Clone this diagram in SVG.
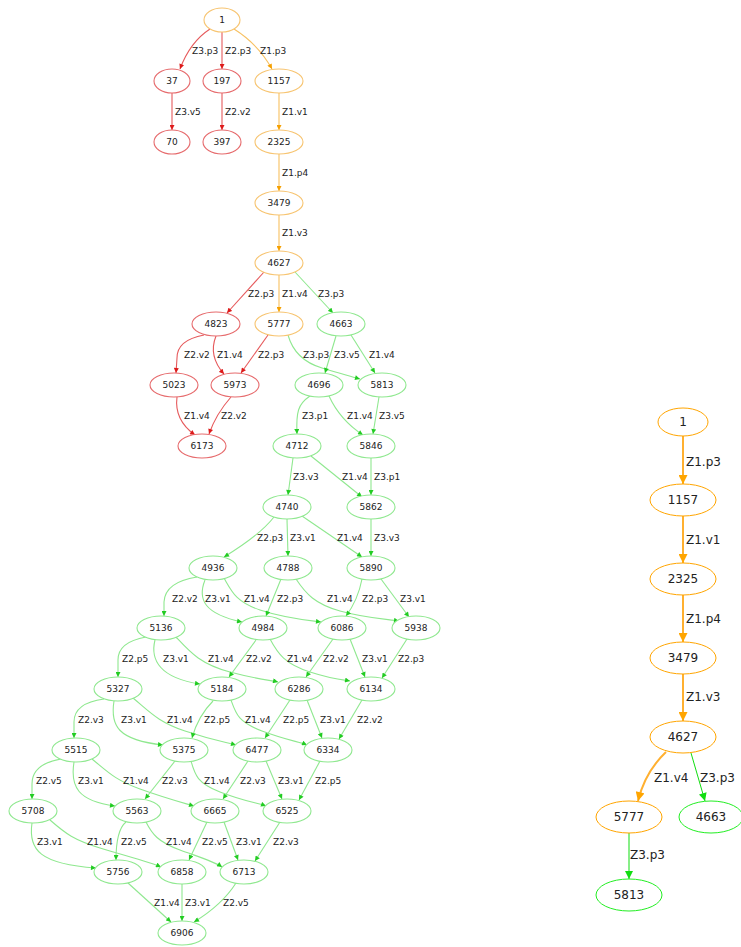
<svg xmlns="http://www.w3.org/2000/svg" width="741" height="947" viewBox="0 0 741 947">
<style>
text{font-family:"DejaVu Sans","Liberation Sans",sans-serif;fill:#222}
.n text{font-size:9px;text-anchor:middle}
.n ellipse{fill:#fff;stroke-width:1.1}
.nr ellipse{stroke:#e66a6c}
.no ellipse{stroke:#f7c470}
.ng ellipse{stroke:#8fe88f}
.lab text{font-size:9px}
.e path{fill:none;stroke-width:1.1}
.er{stroke:#e65a5c}
.eo{stroke:#f7c060}
.eg{stroke:#8fe88f}
.R text{font-size:12px;text-anchor:middle}
.R ellipse{fill:#fff;stroke-width:1}
.Ro ellipse{stroke:#ffa500}
.Rg ellipse{stroke:#22ee22}
.rlab text{font-size:12px}
.EO{fill:none;stroke:#ffb030;stroke-width:2}
.EG{fill:none;stroke:#11dd11;stroke-width:1}
</style>
<defs>
<marker id="mr" viewBox="0 0 10 10" refX="10" refY="5" markerWidth="6" markerHeight="5" markerUnits="userSpaceOnUse" orient="auto"><path d="M0,0L10,5L0,10z" fill="#dd1a1a"/></marker>
<marker id="mo" viewBox="0 0 10 10" refX="10" refY="5" markerWidth="6" markerHeight="5" markerUnits="userSpaceOnUse" orient="auto"><path d="M0,0L10,5L0,10z" fill="#f5a000"/></marker>
<marker id="mg" viewBox="0 0 10 10" refX="10" refY="5" markerWidth="6" markerHeight="5" markerUnits="userSpaceOnUse" orient="auto"><path d="M0,0L10,5L0,10z" fill="#22cc22"/></marker>
<marker id="MO" viewBox="0 0 10 10" refX="10" refY="5" markerWidth="10" markerHeight="9" markerUnits="userSpaceOnUse" orient="auto"><path d="M0,0L10,5L0,10z" fill="#ffa500"/></marker>
<marker id="MG" viewBox="0 0 10 10" refX="10" refY="5" markerWidth="9" markerHeight="8" markerUnits="userSpaceOnUse" orient="auto"><path d="M0,0L10,5L0,10z" fill="#11dd11"/></marker>
</defs>

<g id="left-edges" class="e">
<g class="er" marker-end="url(#mr)">
<path d="M210,29 Q190,42 180,69"/>
<path d="M222,32 L222,69"/>
<path d="M172,93 L172,130"/>
<path d="M222,93 L222,130"/>
<path d="M264,272 L227,313"/>
<path d="M204,335 Q177,340 177,358 L176,373"/>
<path d="M216,336 Q208,356 224,374"/>
<path d="M268,335 L241,373"/>
<path d="M177,397 Q174,420 195,435"/>
<path d="M231,397 Q216,414 209,434"/>
</g>
<g class="eo" marker-end="url(#mo)">
<path d="M234,29 Q258,44 272,69"/>
<path d="M279,93 L279,130"/>
<path d="M279,154 L279,191"/>
<path d="M279,215 L279,251"/>
<path d="M279,275 L279,312"/>
</g>
<g class="eg" marker-end="url(#mg)">
<path d="M295,272 L333,313"/>
<path d="M288,335 Q295,360 322,368 T360,379"/>
<path d="M336,336 L325,373"/>
<path d="M351,335 L375,373"/>
<path d="M310,396 C298,404 296,412 297,434"/>
<path d="M329,396 Q340,420 363,435"/>
<path d="M379,397 L373,434"/>
<path d="M293,458 L288,495"/>
<path d="M311,456 L362,497"/>
<path d="M371,458 L371,495"/>
<path d="M274,517 Q260,535 224,557"/>
<path d="M287,519 L288,556"/>
<path d="M302,516 L362,557"/>
<path d="M371,519 L371,556"/>
<path d="M197,577 Q165,582 164,602 L164,616"/>
<path d="M205,580 C197,600 205,614 242,622"/>
<path d="M224,578 C232,592 236,602 260,610 S305,620 321,622"/>
<path d="M281,579 L266,616"/>
<path d="M296,579 C306,594 315,604 340,611 S385,619 399,621"/>
<path d="M362,579 Q358,600 346,616"/>
<path d="M381,579 L409,617"/>
<path d="M146,637 Q118,642 118,660 L118,677"/>
<path d="M155,640 C150,660 160,678 200,684"/>
<path d="M176,637 C190,652 200,664 230,672 S270,680 278,682"/>
<path d="M256,640 L229,677"/>
<path d="M270,639 C278,654 285,664 310,672 S345,680 350,681"/>
<path d="M333,639 L306,677"/>
<path d="M350,639 L365,677"/>
<path d="M407,639 L382,678"/>
<path d="M104,699 Q74,703 74,722 L74,738"/>
<path d="M114,701 C110,726 118,740 163,745"/>
<path d="M133,698 C150,712 158,722 185,731 S225,742 236,745"/>
<path d="M213,701 Q198,716 192,738"/>
<path d="M231,700 C236,714 238,722 262,731 S300,742 307,745"/>
<path d="M290,700 L265,738"/>
<path d="M307,700 L322,738"/>
<path d="M362,700 L339,739"/>
<path d="M61,759 Q32,764 32,784 L32,799"/>
<path d="M74,762 C70,787 78,801 115,806"/>
<path d="M92,759 C108,772 115,780 140,789 S180,802 194,806"/>
<path d="M175,761 L145,799"/>
<path d="M191,761 C195,775 197,783 220,792 S258,803 266,806"/>
<path d="M248,761 L223,799"/>
<path d="M266,761 L282,799"/>
<path d="M320,761 L299,800"/>
<path d="M32,823 C28,850 40,864 96,868"/>
<path d="M50,820 C66,834 74,840 100,848 S150,862 161,867"/>
<path d="M126,822 Q116,830 116,860"/>
<path d="M146,822 C152,834 158,842 180,850 S215,862 222,867"/>
<path d="M207,822 L189,860"/>
<path d="M224,822 L238,860"/>
<path d="M280,822 L255,861"/>
<path d="M128,883 L171,922"/>
<path d="M182,884 L182,921"/>
<path d="M236,883 Q222,905 194,922"/>
</g>
</g>

<g id="left-edge-labels" class="lab">
<text x="192" y="54">Z3.p3</text><text x="225" y="54">Z2.p3</text><text x="260" y="54">Z1.p3</text>
<text x="175" y="115">Z3.v5</text><text x="225" y="115">Z2.v2</text><text x="282" y="115">Z1.v1</text>
<text x="282" y="176">Z1.p4</text>
<text x="282" y="236">Z1.v3</text>
<text x="248" y="297">Z2.p3</text><text x="282" y="297">Z1.v4</text><text x="318" y="297">Z3.p3</text>
<text x="184" y="358">Z2.v2</text><text x="217" y="358">Z1.v4</text><text x="258" y="358">Z2.p3</text><text x="303" y="358">Z3.p3</text><text x="334" y="358">Z3.v5</text><text x="369" y="358">Z1.v4</text>
<text x="184" y="419">Z1.v4</text><text x="221" y="419">Z2.v2</text><text x="302" y="419">Z3.p1</text><text x="347" y="419">Z1.v4</text><text x="379" y="419">Z3.v5</text>
<text x="293" y="480">Z3.v3</text><text x="342" y="480">Z1.v4</text><text x="374" y="480">Z3.p1</text>
<text x="257" y="541">Z2.p3</text><text x="290" y="541">Z3.v1</text><text x="337" y="541">Z1.v4</text><text x="374" y="541">Z3.v3</text>
<text x="172" y="602">Z2.v2</text><text x="205" y="602">Z3.v1</text><text x="244" y="602">Z1.v4</text><text x="277" y="602">Z2.p3</text><text x="327" y="602">Z1.v4</text><text x="362" y="602">Z2.p3</text><text x="400" y="602">Z3.v1</text>
<text x="122" y="662">Z2.p5</text><text x="163" y="662">Z3.v1</text><text x="208" y="662">Z1.v4</text><text x="246" y="662">Z2.v2</text><text x="287" y="662">Z1.v4</text><text x="323" y="662">Z2.v2</text><text x="362" y="662">Z3.v1</text><text x="398" y="662">Z2.p3</text>
<text x="78" y="723">Z2.v3</text><text x="121" y="723">Z3.v1</text><text x="167" y="723">Z1.v4</text><text x="204" y="723">Z2.p5</text><text x="245" y="723">Z1.v4</text><text x="283" y="723">Z2.p5</text><text x="320" y="723">Z3.v1</text><text x="357" y="723">Z2.v2</text>
<text x="36" y="784">Z2.v5</text><text x="78" y="784">Z3.v1</text><text x="123" y="784">Z1.v4</text><text x="162" y="784">Z2.v3</text><text x="204" y="784">Z1.v4</text><text x="240" y="784">Z2.v3</text><text x="278" y="784">Z3.v1</text><text x="315" y="784">Z2.p5</text>
<text x="37" y="845">Z3.v1</text><text x="87" y="845">Z1.v4</text><text x="121" y="845">Z2.v5</text><text x="166" y="845">Z1.v4</text><text x="202" y="845">Z2.v5</text><text x="236" y="845">Z3.v1</text><text x="273" y="845">Z2.v3</text>
<text x="154" y="906">Z1.v4</text><text x="185" y="906">Z3.v1</text><text x="223" y="906">Z2.v5</text>
</g>

<g id="left-nodes">
<g id="L1" class="n no"><ellipse cx="222" cy="20" rx="18" ry="12"/><text x="222" y="23">1</text></g>
<g id="L37" class="n nr"><ellipse cx="172" cy="81" rx="18" ry="12"/><text x="172" y="84">37</text></g>
<g id="L197" class="n nr"><ellipse cx="222" cy="81" rx="19" ry="12"/><text x="222" y="84">197</text></g>
<g id="L1157" class="n no"><ellipse cx="279" cy="81" rx="24" ry="12"/><text x="279" y="84">1157</text></g>
<g id="L70" class="n nr"><ellipse cx="172" cy="142" rx="18" ry="12"/><text x="172" y="145">70</text></g>
<g id="L397" class="n nr"><ellipse cx="222" cy="142" rx="19" ry="12"/><text x="222" y="145">397</text></g>
<g id="L2325" class="n no"><ellipse cx="279" cy="142" rx="24" ry="12"/><text x="279" y="145">2325</text></g>
<g id="L3479" class="n no"><ellipse cx="279" cy="203" rx="24" ry="12"/><text x="279" y="206">3479</text></g>
<g id="L4627" class="n no"><ellipse cx="279" cy="263" rx="24" ry="12"/><text x="279" y="266">4627</text></g>
<g id="L4823" class="n nr"><ellipse cx="216" cy="324" rx="24" ry="12"/><text x="216" y="327">4823</text></g>
<g id="L5777" class="n no"><ellipse cx="279" cy="324" rx="24" ry="12"/><text x="279" y="327">5777</text></g>
<g id="L4663" class="n ng"><ellipse cx="341" cy="324" rx="24" ry="12"/><text x="341" y="327">4663</text></g>
<g id="L5023" class="n nr"><ellipse cx="174" cy="385" rx="24" ry="12"/><text x="174" y="388">5023</text></g>
<g id="L5973" class="n nr"><ellipse cx="235" cy="385" rx="24" ry="12"/><text x="235" y="388">5973</text></g>
<g id="L4696" class="n ng"><ellipse cx="319" cy="385" rx="24" ry="12"/><text x="319" y="388">4696</text></g>
<g id="L5813" class="n ng"><ellipse cx="382" cy="385" rx="24" ry="12"/><text x="382" y="388">5813</text></g>
<g id="L6173" class="n nr"><ellipse cx="202" cy="446" rx="24" ry="12"/><text x="202" y="449">6173</text></g>
<g id="L4712" class="n ng"><ellipse cx="297" cy="446" rx="24" ry="12"/><text x="297" y="449">4712</text></g>
<g id="L5846" class="n ng"><ellipse cx="371" cy="446" rx="24" ry="12"/><text x="371" y="449">5846</text></g>
<g id="L4740" class="n ng"><ellipse cx="287" cy="507" rx="24" ry="12"/><text x="287" y="510">4740</text></g>
<g id="L5862" class="n ng"><ellipse cx="371" cy="507" rx="24" ry="12"/><text x="371" y="510">5862</text></g>
<g id="L4936" class="n ng"><ellipse cx="213" cy="568" rx="24" ry="12"/><text x="213" y="571">4936</text></g>
<g id="L4788" class="n ng"><ellipse cx="288" cy="568" rx="24" ry="12"/><text x="288" y="571">4788</text></g>
<g id="L5890" class="n ng"><ellipse cx="371" cy="568" rx="24" ry="12"/><text x="371" y="571">5890</text></g>
<g id="L5136" class="n ng"><ellipse cx="161" cy="628" rx="24" ry="12"/><text x="161" y="631">5136</text></g>
<g id="L4984" class="n ng"><ellipse cx="263" cy="628" rx="24" ry="12"/><text x="263" y="631">4984</text></g>
<g id="L6086" class="n ng"><ellipse cx="342" cy="628" rx="24" ry="12"/><text x="342" y="631">6086</text></g>
<g id="L5938" class="n ng"><ellipse cx="416" cy="628" rx="24" ry="12"/><text x="416" y="631">5938</text></g>
<g id="L5327" class="n ng"><ellipse cx="118" cy="689" rx="24" ry="12"/><text x="118" y="692">5327</text></g>
<g id="L5184" class="n ng"><ellipse cx="222" cy="689" rx="24" ry="12"/><text x="222" y="692">5184</text></g>
<g id="L6286" class="n ng"><ellipse cx="299" cy="689" rx="24" ry="12"/><text x="299" y="692">6286</text></g>
<g id="L6134" class="n ng"><ellipse cx="371" cy="689" rx="24" ry="12"/><text x="371" y="692">6134</text></g>
<g id="L5515" class="n ng"><ellipse cx="76" cy="750" rx="24" ry="12"/><text x="76" y="753">5515</text></g>
<g id="L5375" class="n ng"><ellipse cx="184" cy="750" rx="24" ry="12"/><text x="184" y="753">5375</text></g>
<g id="L6477" class="n ng"><ellipse cx="257" cy="750" rx="24" ry="12"/><text x="257" y="753">6477</text></g>
<g id="L6334" class="n ng"><ellipse cx="328" cy="750" rx="24" ry="12"/><text x="328" y="753">6334</text></g>
<g id="L5708" class="n ng"><ellipse cx="33" cy="811" rx="24" ry="12"/><text x="33" y="814">5708</text></g>
<g id="L5563" class="n ng"><ellipse cx="137" cy="811" rx="24" ry="12"/><text x="137" y="814">5563</text></g>
<g id="L6665" class="n ng"><ellipse cx="215" cy="811" rx="24" ry="12"/><text x="215" y="814">6665</text></g>
<g id="L6525" class="n ng"><ellipse cx="287" cy="811" rx="24" ry="12"/><text x="287" y="814">6525</text></g>
<g id="L5756" class="n ng"><ellipse cx="118" cy="872" rx="24" ry="12"/><text x="118" y="875">5756</text></g>
<g id="L6858" class="n ng"><ellipse cx="182" cy="872" rx="24" ry="12"/><text x="182" y="875">6858</text></g>
<g id="L6713" class="n ng"><ellipse cx="244" cy="872" rx="24" ry="12"/><text x="244" y="875">6713</text></g>
<g id="L6906" class="n ng"><ellipse cx="182" cy="933" rx="24" ry="12"/><text x="182" y="936">6906</text></g>
</g>

<g id="right-edges">
<path class="EO" marker-end="url(#MO)" d="M683,436 L683,484"/>
<path class="EO" marker-end="url(#MO)" d="M683,516 L683,563"/>
<path class="EO" marker-end="url(#MO)" d="M683,595 L683,642"/>
<path class="EO" marker-end="url(#MO)" d="M683,674 L683,721"/>
<path class="EO" marker-end="url(#MO)" d="M666,752 Q645,772 638,801"/>
<path class="EG" marker-end="url(#MG)" d="M691,753 L705,801"/>
<path class="EG" marker-end="url(#MG)" d="M629,833 L629,879"/>
</g>
<g id="right-edge-labels" class="rlab">
<text x="686" y="466">Z1.p3</text>
<text x="686" y="544">Z1.v1</text>
<text x="686" y="623">Z1.p4</text>
<text x="686" y="701">Z1.v3</text>
<text x="654" y="782">Z1.v4</text>
<text x="700" y="782">Z3.p3</text>
<text x="630" y="859">Z3.p3</text>
</g>
<g id="right-nodes">
<g id="R1" class="R Ro"><ellipse cx="683" cy="422" rx="25" ry="14"/><text x="683" y="426">1</text></g>
<g id="R1157" class="R Ro"><ellipse cx="683" cy="500" rx="33" ry="16"/><text x="683" y="504">1157</text></g>
<g id="R2325" class="R Ro"><ellipse cx="683" cy="579" rx="33" ry="16"/><text x="683" y="583">2325</text></g>
<g id="R3479" class="R Ro"><ellipse cx="683" cy="658" rx="33" ry="16"/><text x="683" y="662">3479</text></g>
<g id="R4627" class="R Ro"><ellipse cx="683" cy="737" rx="33" ry="16"/><text x="683" y="741">4627</text></g>
<g id="R5777" class="R Ro"><ellipse cx="629" cy="817" rx="33" ry="16"/><text x="629" y="821">5777</text></g>
<g id="R4663" class="R Rg"><ellipse cx="711" cy="817" rx="32" ry="16"/><text x="711" y="821">4663</text></g>
<g id="R5813" class="R Rg"><ellipse cx="629" cy="895" rx="33" ry="16"/><text x="629" y="899">5813</text></g>
</g>
</svg>
